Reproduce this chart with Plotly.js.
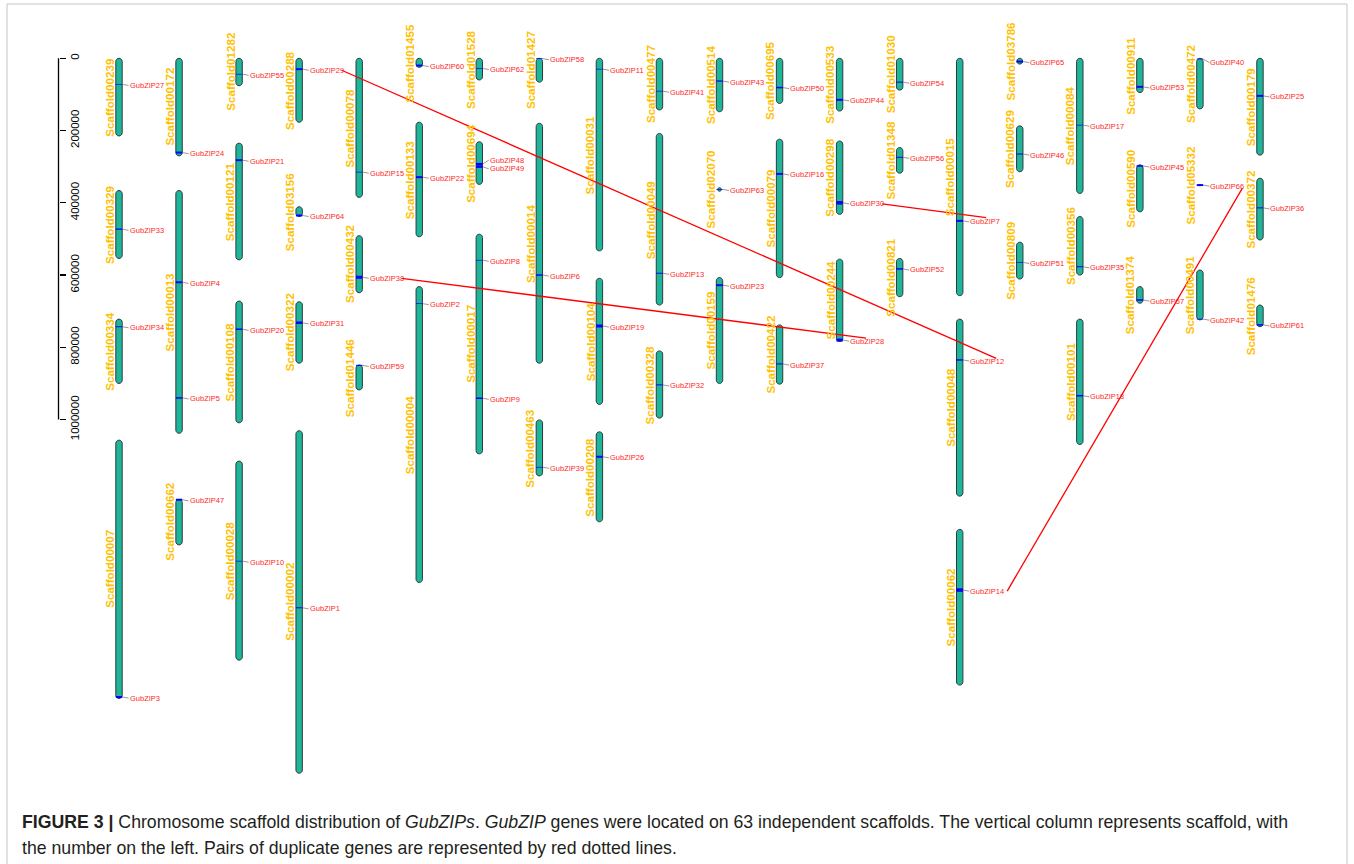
<!DOCTYPE html>
<html><head><meta charset="utf-8">
<script src="https://cdn.plot.ly/plotly-3.0.1.min.js"></script>
<style>html,body{margin:0;padding:0;background:#fff;}#chart{width:1354px;height:864px;}</style>
</head><body><div id="chart"></div>
<script>
// ---------- DATA ----------
const scaffoldNames = ['Scaffold00239','Scaffold00329','Scaffold00334','Scaffold00007','Scaffold00172','Scaffold00013','Scaffold00662','Scaffold01282','Scaffold00121','Scaffold00108','Scaffold00028','Scaffold00288','Scaffold03156','Scaffold00322','Scaffold00002','Scaffold00078','Scaffold00432','Scaffold01446','Scaffold01455','Scaffold00133','Scaffold00004','Scaffold01528','Scaffold00694','Scaffold00017','Scaffold01427','Scaffold00014','Scaffold00463','Scaffold00031','Scaffold00104','Scaffold00208','Scaffold00477','Scaffold00049','Scaffold00328','Scaffold00514','Scaffold02070','Scaffold00159','Scaffold00695','Scaffold00079','Scaffold00422','Scaffold00533','Scaffold00298','Scaffold00244','Scaffold01030','Scaffold01348','Scaffold00821','Scaffold00015','Scaffold00048','Scaffold00062','Scaffold03786','Scaffold00629','Scaffold00809','Scaffold00084','Scaffold00356','Scaffold00101','Scaffold00911','Scaffold00590','Scaffold01374','Scaffold00472','Scaffold05332','Scaffold00491','Scaffold00179','Scaffold00372','Scaffold01476'];
const scaffoldColumn = [1,1,1,1,2,2,2,3,3,3,3,4,4,4,4,5,5,5,6,6,6,7,7,7,8,8,8,9,9,9,10,10,10,11,11,11,12,12,12,13,13,13,14,14,14,15,15,15,16,16,16,17,17,17,18,18,18,19,19,19,20,20,20];
const scaffoldStart = [0,366000,722000,1057000,0,366000,1221000,0,235000,672000,1115000,0,411000,674000,1031000,0,491000,849000,0,177000,632000,0,231000,487000,0,180000,1001000,0,609000,1034000,0,208000,810000,0,358000,607000,0,224000,738000,0,229000,556000,0,247000,554000,0,722000,1304000,0,187000,509000,0,438000,722000,0,295000,632000,0,349000,586000,0,332000,683000];
const scaffoldEnd = [215000,554000,900000,1772000,270000,1038000,1347000,76000,558000,1009000,1666000,177000,438000,844000,1979000,385000,649000,918000,25000,494000,1451000,60000,349000,1095000,66000,844000,1156000,533000,958000,1283000,143000,683000,996000,148000,368000,900000,125000,607000,902000,146000,432000,784000,88000,318000,660000,657000,1212000,1735000,16000,314000,611000,374000,600000,1069000,95000,425000,678000,140000,353000,724000,268000,503000,743000];

const geneNames = ['GubZIP1','GubZIP2','GubZIP3','GubZIP4','GubZIP5','GubZIP6','GubZIP7','GubZIP8','GubZIP9','GubZIP10','GubZIP11','GubZIP12','GubZIP13','GubZIP14','GubZIP15','GubZIP16','GubZIP17','GubZIP18','GubZIP19','GubZIP20','GubZIP21','GubZIP22','GubZIP23','GubZIP24','GubZIP25','GubZIP26','GubZIP27','GubZIP28','GubZIP29','GubZIP30','GubZIP31','GubZIP32','GubZIP33','GubZIP34','GubZIP35','GubZIP36','GubZIP37','GubZIP38','GubZIP39','GubZIP40','GubZIP41','GubZIP42','GubZIP43','GubZIP44','GubZIP45','GubZIP46','GubZIP47','GubZIP48','GubZIP49','GubZIP50','GubZIP51','GubZIP52','GubZIP53','GubZIP54','GubZIP55','GubZIP56','GubZIP57','GubZIP58','GubZIP59','GubZIP60','GubZIP61','GubZIP62','GubZIP63','GubZIP64','GubZIP65','GubZIP66'];
const geneScaffold = ['Scaffold00002','Scaffold00004','Scaffold00007','Scaffold00013','Scaffold00013','Scaffold00014','Scaffold00015','Scaffold00017','Scaffold00017','Scaffold00028','Scaffold00031','Scaffold00048','Scaffold00049','Scaffold00062','Scaffold00078','Scaffold00079','Scaffold00084','Scaffold00101','Scaffold00104','Scaffold00108','Scaffold00121','Scaffold00133','Scaffold00159','Scaffold00172','Scaffold00179','Scaffold00208','Scaffold00239','Scaffold00244','Scaffold00288','Scaffold00298','Scaffold00322','Scaffold00328','Scaffold00329','Scaffold00334','Scaffold00356','Scaffold00372','Scaffold00422','Scaffold00432','Scaffold00463','Scaffold00472','Scaffold00477','Scaffold00491','Scaffold00514','Scaffold00533','Scaffold00590','Scaffold00629','Scaffold00662','Scaffold00694','Scaffold00694','Scaffold00695','Scaffold00809','Scaffold00821','Scaffold00911','Scaffold01030','Scaffold01282','Scaffold01348','Scaffold01374','Scaffold01427','Scaffold01446','Scaffold01455','Scaffold01476','Scaffold01528','Scaffold02070','Scaffold03156','Scaffold03786','Scaffold05332'];
const genePos = [1521000,679000,1768000,620000,940000,600000,450000,559000,941000,1392000,30000,835000,595000,1472000,315000,320000,185000,934000,741000,750000,282000,329000,628000,261000,104000,1103000,72000,780000,30000,400000,732000,904000,473000,743000,577000,414000,846000,606000,1132000,2000,91000,722000,63000,115000,298000,265000,1222000,293000,300000,81000,565000,583000,79000,66000,44000,274000,669000,1000,850000,20000,738000,28000,363000,435000,9000,351000];
const geneLen = [2800,2000,5500,5500,4200,4200,5500,2000,4200,2000,2000,4200,2800,9700,2000,5500,2000,4200,8300,4200,5500,5500,5500,5500,5500,5500,2000,8300,5500,9700,7000,2800,3500,2800,2800,2800,2800,8300,2000,2000,2000,2000,3500,5500,4200,2800,5500,7000,7000,4200,2000,4200,5500,2800,2000,2800,4200,2000,2800,5500,4200,2000,2000,5500,5500,5500];
const geneLabelPos = {GubZIP48: 282000, GubZIP49: 306000, GubZIP40: 12000};
const duplicatePairs = [['GubZIP29','GubZIP12'],['GubZIP38','GubZIP28'],['GubZIP30','GubZIP7'],['GubZIP14','GubZIP66']];

const yTickVals = [0,200000,400000,600000,800000,1000000];
const yTickText = ['0','200000','400000','600000','800000','1000000'];

// ---------- LAYOUT GEOMETRY ----------
const W = 1354, H = 864;
const X_RANGE = [-0.9817, 21.566];
const Y_RANGE = [2230311, -161384];
const PX_PER_COL = W / (X_RANGE[1] - X_RANGE[0]);
const BP_PER_PX = (Y_RANGE[0] - Y_RANGE[1]) / H;
const dx = px => px / PX_PER_COL;
const dy = px => px * BP_PER_PX;
const HALF_W = 3.2;
const AXIS_X = 58.5 / W;
const dupStartDx = [33, 33, 33, 38];
const dupEndDx = [27, 17, 17, 33];
const dupEndDy = [-2.7, -3, -4.3, 2];
const FONT = 'Liberation Sans, Arial, sans-serif';
const f = (v, d) => Number(v.toFixed(d));

const shapes = [];
const annotations = [];
const scIdx = {};
scaffoldNames.forEach((n, i) => scIdx[n] = i);

// scaffolds
scaffoldNames.forEach((name, i) => {
  const cx = scaffoldColumn[i], y0 = scaffoldStart[i], y1 = scaffoldEnd[i];
  const lenPx = (y1 - y0) / BP_PER_PX;
  const rPx = Math.min(HALF_W, lenPx / 2);
  const a = dx(rPx < HALF_W ? rPx : HALF_W);
  const ry = dy(rPx), k = 0.5523;
  const X = v => f(v, 5), Y = v => f(v, 1);
  const path = `M${X(cx-a)},${Y(y0+ry)} C${X(cx-a)},${Y(y0+ry-k*ry)} ${X(cx-k*a)},${Y(y0)} ${X(cx)},${Y(y0)} C${X(cx+k*a)},${Y(y0)} ${X(cx+a)},${Y(y0+ry-k*ry)} ${X(cx+a)},${Y(y0+ry)} L${X(cx+a)},${Y(y1-ry)} C${X(cx+a)},${Y(y1-ry+k*ry)} ${X(cx+k*a)},${Y(y1)} ${X(cx)},${Y(y1)} C${X(cx-k*a)},${Y(y1)} ${X(cx-a)},${Y(y1-ry+k*ry)} ${X(cx-a)},${Y(y1-ry)} Z`;
  shapes.push({type: 'path', path, xref: 'x', yref: 'y', fillcolor: '#1fb59b', line: {color: '#2d3b39', width: 1}, layer: 'above'});
  annotations.push({x: cx - dx(9.5), y: (y0 + y1) / 2, xref: 'x', yref: 'y', text: '<b>' + name + '</b>', textangle: -90,
    showarrow: false, xanchor: 'center', yanchor: 'middle', borderpad: 0,
    font: {family: FONT, size: 11.6, color: '#ffc000'}});
});

// genes
const labelInfo = {};
geneNames.forEach((g, i) => {
  const s = scIdx[geneScaffold[i]];
  const cx = scaffoldColumn[s];
  const pos = genePos[i], len = geneLen[i];
  const labY = geneLabelPos[g] !== undefined ? geneLabelPos[g] : pos + 3000;
  shapes.push({type: 'line', xref: 'x', yref: 'y', x0: cx + dx(HALF_W), x1: cx + dx(9.5), y0: pos, y1: labY,
    line: {color: '#808080', width: 0.8}, layer: 'above'});
  shapes.push({type: 'rect', xref: 'x', yref: 'y', x0: cx - dx(HALF_W), x1: cx + dx(HALF_W),
    y0: pos - len / 2, y1: pos + len / 2, fillcolor: '#0000ff', line: {width: 0}, layer: 'above'});
  annotations.push({x: cx + dx(9.5), y: labY, xref: 'x', yref: 'y', text: g, showarrow: false,
    xanchor: 'left', yanchor: 'middle', borderpad: 0, font: {family: FONT, size: 7.5, color: '#ff1f1f'}});
  labelInfo[g] = {x: cx + dx(9.5), y: labY};
});

// duplicate gene links
duplicatePairs.forEach((p, i) => {
  const A = labelInfo[p[0]], B = labelInfo[p[1]];
  shapes.push({type: 'line', xref: 'x', yref: 'y', x0: A.x + dx(dupStartDx[i]), y0: A.y,
    x1: B.x + dx(dupEndDx[i]), y1: B.y + dy(dupEndDy[i]), line: {color: '#ff0000', width: 1.3}, layer: 'above'});
});

// axis line
shapes.push({type: 'line', xref: 'paper', yref: 'y', x0: AXIS_X, x1: AXIS_X, y0: yTickVals[0], y1: yTickVals[yTickVals.length - 1],
  line: {color: '#000', width: 1.3}});
// figure border
shapes.push({type: 'rect', xref: 'paper', yref: 'paper', x0: 7 / W, x1: 1347 / W, y0: -0.02, y1: 1 - 4 / H,
  line: {color: '#c4c4c4', width: 1}, fillcolor: 'rgba(0,0,0,0)', layer: 'below'});

// caption
const CAP_FONT = 'Liberation Sans Narrow, Arial Narrow, Liberation Sans, Arial, sans-serif';
annotations.push({xref: 'paper', yref: 'paper', x: 20 / W, y: 1 - 822 / H, xanchor: 'left', yanchor: 'middle', showarrow: false, align: 'left',
  text: '<b>FIGURE 3 |</b> Chromosome scaffold distribution of <i>GubZIPs</i>. <i>GubZIP</i> genes were located on 63 independent scaffolds. The vertical column represents scaffold, with',
  font: {family: CAP_FONT, size: 17.7, color: '#231f20'}});
annotations.push({xref: 'paper', yref: 'paper', x: 20 / W, y: 1 - 848 / H, xanchor: 'left', yanchor: 'middle', showarrow: false, align: 'left',
  text: 'the number on the left. Pairs of duplicate genes are represented by red dotted lines.',
  font: {family: CAP_FONT, size: 17.7, color: '#231f20'}});

const layout = {
  width: W, height: H, margin: {l: 0, r: 0, t: 0, b: 0, pad: 0},
  paper_bgcolor: '#fff', plot_bgcolor: 'rgba(0,0,0,0)', showlegend: false,
  xaxis: {range: X_RANGE, visible: false, fixedrange: true},
  yaxis: {range: Y_RANGE, anchor: 'free', position: AXIS_X, side: 'right', tickmode: 'array', tickvals: yTickVals, ticktext: yTickText,
    tickangle: -90, ticks: 'outside', ticklen: 6, tickwidth: 1.3, tickcolor: '#000', showgrid: false, zeroline: false, showline: false,
    tickfont: {family: FONT, size: 11.5, color: '#000'}, fixedrange: true},
  shapes, annotations
};
Plotly.newPlot('chart', [{x: [], y: [], type: 'scatter', mode: 'markers', hoverinfo: 'skip'}], layout, {displayModeBar: false, staticPlot: true});
</script>
</body></html>
